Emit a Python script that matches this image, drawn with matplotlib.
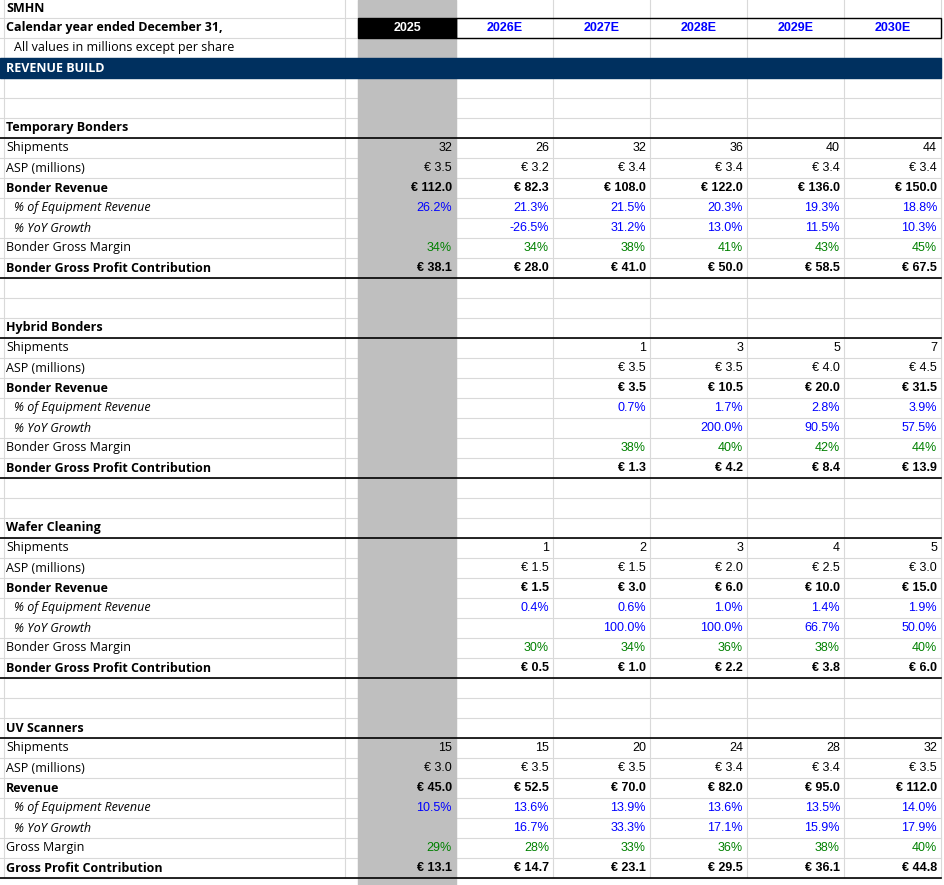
import matplotlib.pyplot as plt
from matplotlib.patches import Rectangle

years = ['2025', '2026E', '2027E', '2028E', '2029E', '2030E']

# section data: (title, labels, rows)
temp_ship = [32, 26, 32, 36, 40, 44]
temp_asp = [3.5, 3.2, 3.4, 3.4, 3.4, 3.4]
temp_rev = [112.0, 82.3, 108.0, 122.0, 136.0, 150.0]
temp_pct = [26.2, 21.3, 21.5, 20.3, 19.3, 18.8]
temp_yoy = [None, -26.5, 31.2, 13.0, 11.5, 10.3]
temp_gm = [34, 34, 38, 41, 43, 45]
temp_gp = [38.1, 28.0, 41.0, 50.0, 58.5, 67.5]

hyb_ship = [None, None, 1, 3, 5, 7]
hyb_asp = [None, None, 3.5, 3.5, 4.0, 4.5]
hyb_rev = [None, None, 3.5, 10.5, 20.0, 31.5]
hyb_pct = [None, None, 0.7, 1.7, 2.8, 3.9]
hyb_yoy = [None, None, None, 200.0, 90.5, 57.5]
hyb_gm = [None, None, 38, 40, 42, 44]
hyb_gp = [None, None, 1.3, 4.2, 8.4, 13.9]

waf_ship = [None, 1, 2, 3, 4, 5]
waf_asp = [None, 1.5, 1.5, 2.0, 2.5, 3.0]
waf_rev = [None, 1.5, 3.0, 6.0, 10.0, 15.0]
waf_pct = [None, 0.4, 0.6, 1.0, 1.4, 1.9]
waf_yoy = [None, None, 100.0, 100.0, 66.7, 50.0]
waf_gm = [None, 30, 34, 36, 38, 40]
waf_gp = [None, 0.5, 1.0, 2.2, 3.8, 6.0]

uv_ship = [15, 15, 20, 24, 28, 32]
uv_asp = [3.0, 3.5, 3.5, 3.4, 3.4, 3.5]
uv_rev = [45.0, 52.5, 70.0, 82.0, 95.0, 112.0]
uv_pct = [10.5, 13.6, 13.9, 13.6, 13.5, 14.0]
uv_yoy = [None, 16.7, 33.3, 17.1, 15.9, 17.9]
uv_gm = [29, 28, 33, 36, 38, 40]
uv_gp = [13.1, 14.7, 23.1, 29.5, 36.1, 44.8]

bonder_labels = ['Shipments', 'ASP (millions)', 'Bonder Revenue', '% of Equipment Revenue',
                 '% YoY Growth', 'Bonder Gross Margin', 'Bonder Gross Profit Contribution']
uv_labels = ['Shipments', 'ASP (millions)', 'Revenue', '% of Equipment Revenue',
             '% YoY Growth', 'Gross Margin', 'Gross Profit Contribution']

sections = [
    ('Temporary Bonders', bonder_labels, [temp_ship, temp_asp, temp_rev, temp_pct, temp_yoy, temp_gm, temp_gp]),
    ('Hybrid Bonders', bonder_labels, [hyb_ship, hyb_asp, hyb_rev, hyb_pct, hyb_yoy, hyb_gm, hyb_gp]),
    ('Wafer Cleaning', bonder_labels, [waf_ship, waf_asp, waf_rev, waf_pct, waf_yoy, waf_gm, waf_gp]),
    ('UV Scanners', uv_labels, [uv_ship, uv_asp, uv_rev, uv_pct, uv_yoy, uv_gm, uv_gp]),
]

# row kinds: format, colour, bold, italic
kinds = [
    (lambda v: f'{v}', 'black', False, False),
    (lambda v: f'€ {v:.1f}', 'black', False, False),
    (lambda v: f'€ {v:.1f}', 'black', True, False),
    (lambda v: f'{v:.1f}%', '#0000FF', False, True),
    (lambda v: f'{v:.1f}%', '#0000FF', False, True),
    (lambda v: f'{v:.0f}%', '#008000', False, False),
    (lambda v: f'€ {v:.1f}', 'black', True, False),
]

W, H = 944, 885
fig = plt.figure(figsize=(W / 100, H / 100), dpi=100)
ax = fig.add_axes([0, 0, 1, 1])
ax.set_xlim(0, W)
ax.set_ylim(H, 0)
ax.axis('off')

lab_font = ['Open Sans', 'DejaVu Sans']
num_font = ['Liberation Sans Narrow', 'Liberation Sans', 'DejaVu Sans']
col_edges = [358, 456, 553, 650, 747, 844, 941]
col_right = [e - 4 for e in col_edges[1:]]
n_rows = 44


def top(i):
    return 20 * i - 2


def mid(i):
    return 20 * i + 8


# gridlines
for i in range(n_rows + 1):
    ax.plot([0, 941], [top(i), top(i)], color='#D9D9D9', lw=0.8, zorder=1)
for x in [4, 345] + col_edges:
    ax.plot([x, x], [0, top(n_rows)], color='#D9D9D9', lw=0.8, zorder=1)

# gray 2025 column
ax.add_patch(Rectangle((358, 0), 98, H, color='#BFBFBF', zorder=2))

# title rows
ax.text(6, mid(0), 'SMHN', fontsize=9, fontweight='bold', va='center', family=lab_font, zorder=5)
ax.text(6, mid(1), 'Calendar year ended December 31,', fontsize=9, fontweight='bold',
        va='center', family=lab_font, zorder=5)
ax.text(14, mid(2), 'All values in millions except per share', fontsize=9, va='center',
        family=lab_font, zorder=5)
ax.add_patch(Rectangle((358, top(1)), 98, 20, color='black', zorder=3))
ax.add_patch(Rectangle((456, top(1)), 485, 20, fill=False, ec='black', lw=1, zorder=4))
for j, y in enumerate(years):
    cx = (col_edges[j] + col_edges[j + 1]) / 2
    ax.text(cx, mid(1), y, fontsize=9, fontweight='bold', ha='center', va='center',
            color='white' if j == 0 else '#0000FF', family=num_font, zorder=5)
ax.add_patch(Rectangle((0, top(3)), 941, 20, color='#00305F', zorder=3))
ax.text(6, mid(3), 'REVENUE BUILD', fontsize=9, fontweight='bold', color='white',
        va='center', family=lab_font, zorder=5)

# sections
for s, (title, labels, rows) in enumerate(sections):
    r0 = 6 + 10 * s
    ax.text(6, mid(r0), title, fontsize=9, fontweight='bold', va='center', family=lab_font, zorder=5)
    ax.plot([0, 941], [top(r0 + 1), top(r0 + 1)], color='black', lw=1.2, zorder=4)
    ax.plot([0, 941], [top(r0 + 8), top(r0 + 8)], color='black', lw=1.2, zorder=4)
    for k, (lab, vals) in enumerate(zip(labels, rows)):
        fmt, col, bold, ital = kinds[k]
        r = r0 + 1 + k
        ax.text(14 if ital else 6, mid(r), lab, fontsize=9, va='center', family=lab_font,
                fontweight='bold' if bold else 'normal', style='italic' if ital else 'normal',
                zorder=5)
        for j, v in enumerate(vals):
            if v is None:
                continue
            ax.text(col_right[j], mid(r), fmt(v), fontsize=9, ha='right', va='center',
                    color=col, fontweight='bold' if bold else 'normal', family=num_font,
                    zorder=5)

fig.savefig('out.png', dpi=100)
